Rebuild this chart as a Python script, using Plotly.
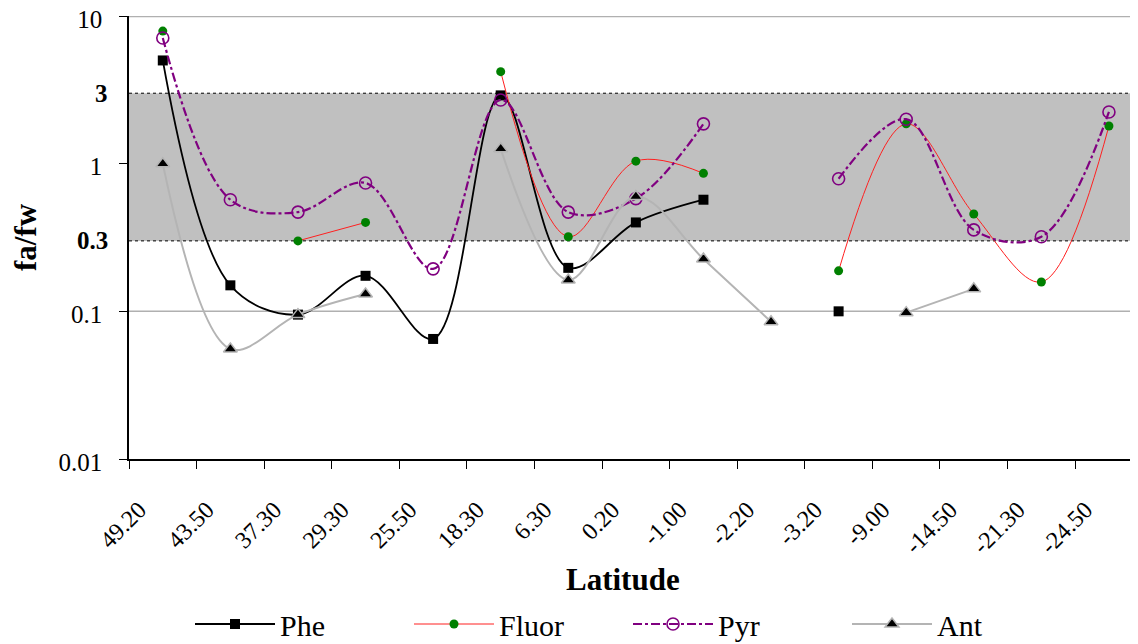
import math
import plotly.graph_objects as go

latitude = ["49.20", "43.50", "37.30", "29.30", "25.50", "18.30", "6.30", "0.20",
            "-1.00", "-2.20", "-3.20", "-9.00", "-14.50", "-21.30", "-24.50"]

phe = [5.0, 0.15, 0.095, 0.174, 0.065, 2.9, 0.197, 0.40, 0.57, None, 0.10, None, None, None, None]
fluor = [7.9, None, 0.30, 0.40, None, 4.2, 0.32, 1.04, 0.86, None, 0.188, 1.86, 0.456, 0.158, 1.80]
pyr = [7.1, 0.57, 0.47, 0.74, 0.194, 2.7, 0.47, 0.58, 1.86, None, 0.79, 2.0, 0.356, 0.32, 2.24]
ant = [1.0, 0.0556, 0.095, 0.131, None, 1.26, 0.163, 0.60, 0.226, 0.085, None, 0.098, 0.142, None, None]

band_low, band_high = 0.3, 3
ytick_vals = [0.01, 0.1, 1, 10]
ytick_text = ["0.01", "0.1", "1", "10"]
bold_ticks = [0.3, 3]
grid_vals = [0.1, 10]

FONT = "Liberation Serif, DejaVu Serif, serif"
NBSP = "\u00a0"

# page body has an 8px margin; the figure is sized to fill the rest of the window
OFF = 8
W, H = 1138 - OFF, 644 - OFF

fig = go.Figure()

fig.add_trace(go.Scatter(
    x=latitude, y=phe, name="Phe", mode="lines+markers",
    line=dict(color="black", width=1.8, shape="spline", smoothing=1),
    marker=dict(symbol="square", size=10, color="black"),
    connectgaps=False))
fig.add_trace(go.Scatter(
    x=latitude, y=fluor, name="Fluor", mode="lines+markers",
    line=dict(color="#FF2020", width=1, shape="spline", smoothing=1),
    marker=dict(symbol="circle", size=9, color="#008000"),
    connectgaps=False))
fig.add_trace(go.Scatter(
    x=latitude, y=pyr, name="Pyr", mode="lines+markers",
    line=dict(color="#800080", width=2.2, dash="dashdot", shape="spline", smoothing=1),
    marker=dict(symbol="circle-open", size=12, color="#800080", line=dict(width=1.6)),
    connectgaps=False))
fig.add_trace(go.Scatter(
    x=latitude, y=ant, name="Ant", mode="lines+markers",
    line=dict(color="#B4B4B4", width=2, shape="spline", smoothing=1),
    marker=dict(symbol="triangle-up", size=12, color="black", line=dict(color="#B4B4B4", width=1.5)),
    connectgaps=False))

for v in grid_vals:
    fig.add_shape(type="line", xref="paper", yref="y", x0=0, x1=1, y0=v, y1=v,
                  line=dict(color="#B0B0B0", width=1.5 if v < 1 else 2.5), layer="below")

fig.add_shape(type="rect", xref="paper", yref="y", x0=0, x1=1, y0=band_low, y1=band_high,
              fillcolor="#C0C0C0", line=dict(width=0), layer="below")
for v in (band_low, band_high):
    fig.add_shape(type="line", xref="paper", yref="y", x0=0, x1=1, y0=v, y1=v,
                  line=dict(color="black", width=1, dash="dot"), layer="below")

for v in bold_ticks:
    fig.add_annotation(xref="paper", yref="y", x=0, y=math.log10(v), text=f"<b>{v:g}</b>",
                       showarrow=False, xanchor="right", yanchor="middle", xshift=-19,
                       font=dict(family=FONT, size=25, color="black"))

fig.add_annotation(xref="paper", yref="paper", x=(623 - 129) / 1009, y=(459 - 579) / 443,
                   text="<b>Latitude</b>", showarrow=False, xanchor="center", yanchor="middle",
                   font=dict(family=FONT, size=31, color="black"))
fig.add_annotation(xref="paper", yref="paper", x=(25 - 129) / 1009, y=(459 - 237) / 443,
                   text="<b>fa/fw</b>", showarrow=False, textangle=-90,
                   xanchor="center", yanchor="middle",
                   font=dict(family=FONT, size=31, color="black"))

fig.update_layout(
    width=W, height=H,
    margin=dict(l=129 - OFF, r=0, t=16 - OFF, b=644 - 459, autoexpand=False),
    paper_bgcolor="white", plot_bgcolor="white",
    font=dict(family=FONT, color="black"),
    showlegend=True,
    legend=dict(orientation="h", xref="container", yref="container",
                x=(190 - OFF) / W, y=1 - (624 - OFF) / H, xanchor="left", yanchor="middle",
                font=dict(family=FONT, size=30, color="black"),
                entrywidth=124, entrywidthmode="pixels", itemwidth=80,
                bgcolor="rgba(0,0,0,0)", traceorder="normal"),
    xaxis=dict(type="category", categoryorder="array", categoryarray=latitude,
               tickvals=latitude, ticktext=[c + NBSP * 6 for c in latitude],
               range=[-0.5, 14.43], tickson="boundaries", ticks="outside", ticklen=8,
               tickcolor="black", tickwidth=1.2, showline=True, linecolor="black",
               linewidth=1.5, showgrid=False, tickangle=-45,
               ticklabelshift=2, ticklabeloverflow="allow",
               tickfont=dict(family=FONT, size=24, color="black"), zeroline=False),
    yaxis=dict(type="log", range=[-2, 1], tickvals=ytick_vals, ticktext=ytick_text,
               ticks="outside", ticklen=8, tickcolor="black", tickwidth=1.2,
               showline=True, linecolor="black", linewidth=1.5,
               showgrid=False, ticklabelstandoff=12, ticklabelshift=3,
               ticklabeloverflow="allow",
               tickfont=dict(family=FONT, size=25, color="black"), zeroline=False),
)

fig.write_html("out.html")
